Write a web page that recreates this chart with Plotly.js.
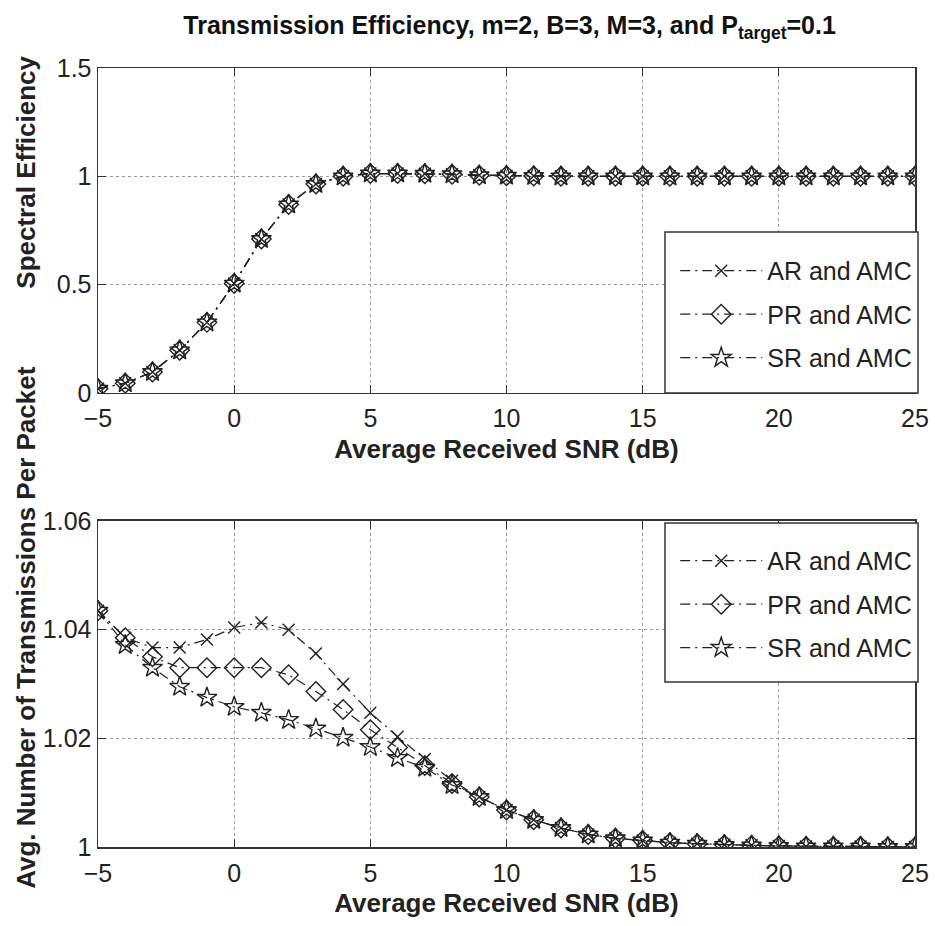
<!DOCTYPE html>
<html>
<head>
<meta charset="utf-8">
<script src="https://cdn.plot.ly/plotly-3.0.1.min.js"></script>
<style>html,body{margin:0;padding:0;background:#fff;}#chart{width:935px;height:926px;}</style>
</head>
<body>
<div id="chart"></div>
<script>
// ---- data ----
const snr = [-5,-4,-3,-2,-1,0,1,2,3,4,5,6,7,8,9,10,11,12,13,14,15,16,17,18,19,20,21,22,23,24,25];
const seriesNames = ["AR and AMC", "PR and AMC", "SR and AMC"];
const seAR = [0.02,0.045,0.097,0.197,0.326,0.505,0.711,0.87,0.965,1.0,1.013,1.013,1.012,1.01,1.005,1.003,1.002,1.0,1.0,1.0,1.0,1.0,1.0,1.0,1.0,1.0,1.0,1.0,1.0,1.0,1.0];
const sePR = [0.02,0.045,0.097,0.197,0.326,0.505,0.711,0.87,0.965,1.0,1.013,1.013,1.012,1.01,1.005,1.003,1.002,1.0,1.0,1.0,1.0,1.0,1.0,1.0,1.0,1.0,1.0,1.0,1.0,1.0,1.0];
const seSR = [0.02,0.045,0.097,0.197,0.326,0.505,0.711,0.87,0.965,1.0,1.013,1.013,1.012,1.01,1.005,1.003,1.002,1.0,1.0,1.0,1.0,1.0,1.0,1.0,1.0,1.0,1.0,1.0,1.0,1.0,1.0];
const ntAR = [1.0435,1.0385,1.0367,1.0367,1.0382,1.0404,1.0413,1.0400,1.0356,1.0300,1.0247,1.0203,1.0162,1.0122,1.0092,1.0068,1.0050,1.0035,1.0023,1.0016,1.0012,1.0008,1.0006,1.0004,1.0003,1.0002,1.0001,1.0001,1.0001,1.0,1.0];
const ntPR = [1.0435,1.0385,1.0350,1.0330,1.0330,1.0330,1.0330,1.0317,1.0286,1.0253,1.0216,1.0183,1.0150,1.0117,1.0092,1.0068,1.0050,1.0035,1.0023,1.0016,1.0012,1.0008,1.0006,1.0004,1.0003,1.0002,1.0001,1.0001,1.0001,1.0,1.0];
const ntSR = [1.0435,1.0372,1.0330,1.0295,1.0275,1.0258,1.0247,1.0234,1.0218,1.0201,1.0184,1.0164,1.0146,1.0114,1.0092,1.0068,1.0050,1.0035,1.0023,1.0016,1.0012,1.0008,1.0006,1.0004,1.0003,1.0002,1.0001,1.0001,1.0001,1.0,1.0];
const xTicks = [-5,0,5,10,15,20,25];
const seTicks = [0,0.5,1,1.5];
const seTickText = ["0","0.5","1","1.5"];
const ntTicks = [1,1.02,1.04,1.06];
const ntTickText = ["1","1.02","1.04","1.06"];

// ---- styling ----
const symbols = ["x-thin-open","diamond-open","star-open"];
const sizes = [12,15,15];
const dash = "10px,5px,2px,5px";
const fam = "Liberation Sans, Arial, sans-serif";
const tickFont = {family: fam, size: 25, color: "#222"};
const labFont = {family: fam, size: 26, color: "#222", weight: "bold"};

function mk(y, i, xa, ya, leg) {
  return {
    x: snr, y: y, name: seriesNames[i], type: "scatter", mode: "lines+markers",
    xaxis: xa, yaxis: ya, legend: leg, legendgroup: leg + i,
    line: {color: "#222", width: 1.2, dash: dash},
    marker: {symbol: symbols[i], size: sizes[i], color: "#222", line: {color: "#222", width: 1.4}}
  };
}
const traces = [
  mk(seAR,0,"x","y","legend"), mk(sePR,1,"x","y","legend"), mk(seSR,2,"x","y","legend"),
  mk(ntAR,0,"x2","y2","legend2"), mk(ntPR,1,"x2","y2","legend2"), mk(ntSR,2,"x2","y2","legend2")
];

const axBase = {
  showline: true, linecolor: "#333", linewidth: 1.5, mirror: "ticks",
  ticks: "inside", ticklen: 8, tickcolor: "#333", tickwidth: 1.2,
  showgrid: true, gridcolor: "#999", griddash: "dot", gridwidth: 1.2,
  zeroline: false, tickfont: tickFont
};
const legBase = {
  x: 0.7065, xanchor: "left", yanchor: "top",
  borderwidth: 0, bgcolor: "rgba(0,0,0,0)",
  font: {family: fam, size: 25, color: "#222"},
  tracegroupgap: 8, itemwidth: 82, traceorder: "grouped"
};
function box(y0, y1) {
  return {type: "rect", xref: "paper", yref: "paper", x0: 0.694, x1: 1.0037, y0: y0, y1: y1,
          line: {color: "#333", width: 1.5}, fillcolor: "#fff", layer: "above"};
}

const layout = {
  width: 935, height: 926,
  margin: {l: 98, r: 20, t: 68, b: 79},
  paper_bgcolor: "#fff", plot_bgcolor: "#fff",
  showlegend: true,
  title: {
    text: "Transmission Efficiency, m=2, B=3, M=3, and P<sub>target</sub>=0.1",
    font: {family: fam, size: 25, color: "#111", weight: "bold"},
    x: 0.545, xanchor: "center", y: 0.973, yanchor: "middle"
  },
  xaxis: Object.assign({}, axBase, {
    domain: [0,1], range: [-5,25], tickvals: xTicks, anchor: "y", ticklabelstandoff: 3,
    title: {text: "Average Received SNR (dB)", font: labFont, standoff: 8}
  }),
  yaxis: Object.assign({}, axBase, {
    domain: [0.5828,1], range: [0,1.5], tickvals: seTicks, ticktext: seTickText, anchor: "x"
  }),
  xaxis2: Object.assign({}, axBase, {
    domain: [0,1], range: [-5,25], tickvals: xTicks, anchor: "y2", ticklabelstandoff: 3,
    title: {text: "Average Received SNR (dB)", font: labFont, standoff: 8}
  }),
  yaxis2: Object.assign({}, axBase, {
    domain: [0,0.4185], range: [1,1.06], tickvals: ntTicks, ticktext: ntTickText, anchor: "x2"
  }),
  legend: Object.assign({}, legBase, {y: 0.769}),
  legend2: Object.assign({}, legBase, {y: 0.3967}),
  shapes: [box(0.5828, 0.7895), box(0.2118, 0.4159)],
  annotations: [
    {text: "Spectral Efficiency", textangle: -90, xref: "paper", yref: "paper",
     x: -0.0885, y: 0.8665, xanchor: "center", yanchor: "middle", showarrow: false, font: labFont},
    {text: "Avg. Number of Transmissions Per Packet", textangle: -90, xref: "paper", yref: "paper",
     x: -0.0885, y: 0.281, xanchor: "center", yanchor: "middle", showarrow: false, font: labFont}
  ]
};

Plotly.newPlot("chart", traces, layout, {displayModeBar: false, staticPlot: true});
</script>
</body>
</html>
